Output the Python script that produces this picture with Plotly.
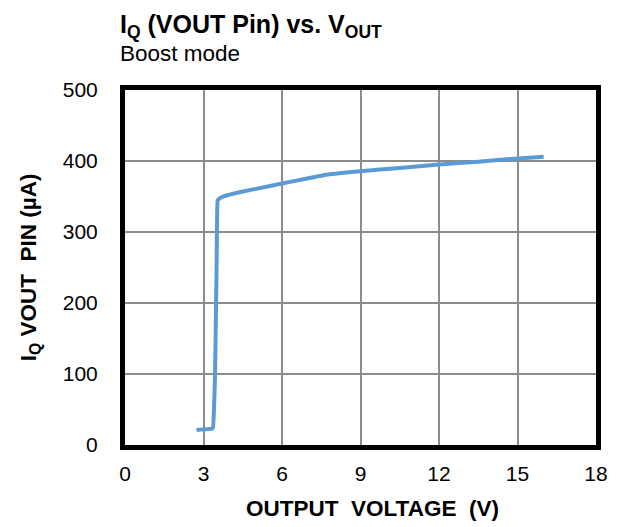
import plotly.graph_objects as go

vout = [2.73, 3.0, 3.35, 3.40, 3.44, 3.50, 3.54, 3.60, 3.75, 4.5, 5.5, 6.5, 7.75, 9.0, 10.5, 12.0, 13.5, 15.0, 16.0]
iq   = [21, 22, 23.5, 50, 96, 250, 344, 347, 350, 357, 364.5, 372, 381, 385.7, 390, 395, 399, 403.5, 406]

x_ticks = [0, 3, 6, 9, 12, 15, 18]
y_ticks = [0, 100, 200, 300, 400, 500]

font = "Liberation Sans, Arial, sans-serif"

fig = go.Figure()
fig.add_trace(go.Scatter(x=vout, y=iq, mode="lines",
                         line=dict(color="#5B9BD5", width=4, shape="spline", smoothing=0.3),
                         showlegend=False, hoverinfo="skip"))

fig.update_layout(
    width=612, height=519,
    margin=dict(l=117, r=15, t=82, b=82),
    paper_bgcolor="white", plot_bgcolor="white",
    font=dict(family=font, color="black"),
    xaxis=dict(range=[0, 18], tickvals=x_ticks, showgrid=True, gridcolor="#8C8C8C", gridwidth=1.7,
               zeroline=False, showline=True, linecolor="black", linewidth=5, mirror=True,
               ticks="", tickfont=dict(size=21), ticklabelstandoff=6),
    yaxis=dict(range=[0, 500], tickvals=y_ticks, showgrid=True, gridcolor="#8C8C8C", gridwidth=1.7,
               zeroline=False, showline=True, linecolor="black", linewidth=5, mirror=True,
               ticks="", tickfont=dict(size=21), ticklabelstandoff=18),
    annotations=[
        dict(text="<b>I<sub>Q</sub> (VOUT Pin) vs. V<sub>OUT</sub></b>", xref="paper", yref="paper",
             x=-0.0146, y=1.181, xanchor="left", yanchor="middle", showarrow=False,
             font=dict(size=25, family=font)),
        dict(text="Boost mode", xref="paper", yref="paper",
             x=-0.0146, y=1.104, xanchor="left", yanchor="middle", showarrow=False,
             font=dict(size=22.5, family=font)),
        dict(text="<b>OUTPUT&nbsp;&nbsp;VOLTAGE&nbsp;&nbsp;(V)</b>", xref="paper", yref="paper",
             x=0.525, y=-0.1786, xanchor="center", yanchor="middle", showarrow=False,
             font=dict(size=22.5, family=font)),
        dict(text="<b>I<sub>Q</sub>&nbsp;VOUT&nbsp;&nbsp;PIN&nbsp;(µA)</b>", xref="paper", yref="paper",
             x=-0.202, y=0.5, xanchor="center", yanchor="middle", showarrow=False, textangle=-90,
             font=dict(size=22.5, family=font)),
    ],
)
fig.write_html("out.html")
